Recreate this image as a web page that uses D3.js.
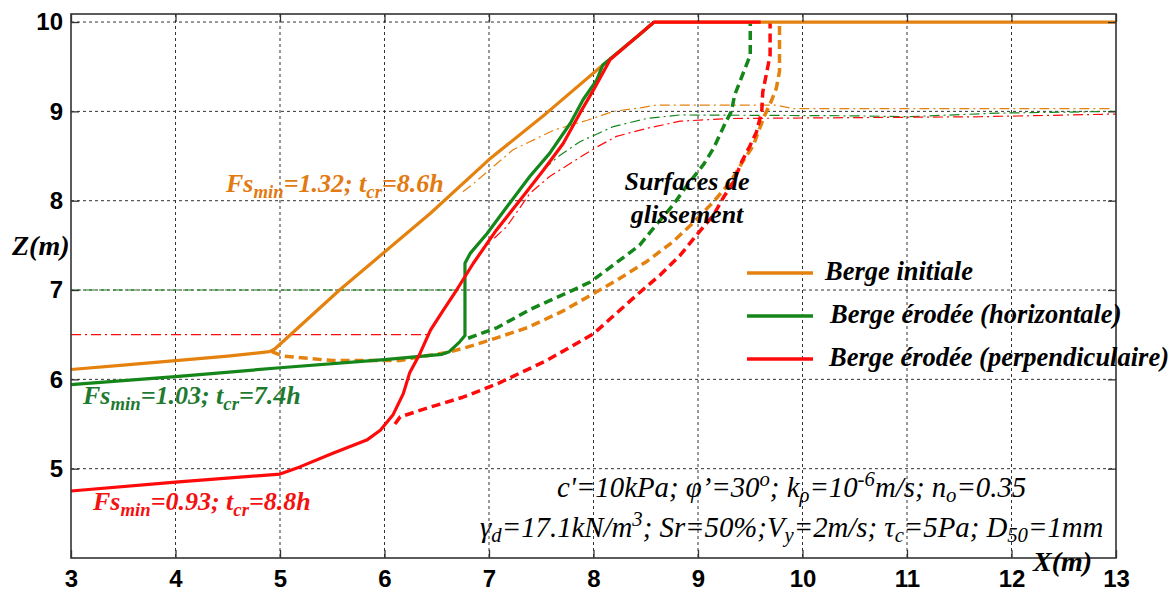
<!DOCTYPE html>
<html>
<head>
<meta charset="utf-8">
<script src="https://cdn.jsdelivr.net/npm/d3@7"></script>
<style>
  html, body { margin: 0; padding: 0; background: #fff; }
  svg { display: block; }
</style>
</head>
<body>
<svg id="chart" width="1176" height="593"></svg>
<script>
// ---------------- DATA ----------------
const xTicks = [3, 4, 5, 6, 7, 8, 9, 10, 11, 12, 13];
const zTicks = [5, 6, 7, 8, 9, 10];
const xTickLabels = ["3", "4", "5", "6", "7", "8", "9", "10", "11", "12", "13"];
const zTickLabels = ["5", "6", "7", "8", "9", "10"];

// bank profiles [x (m), z (m)]
const initialBank = [[3,6.11],[3.5,6.16],[4,6.21],[4.5,6.26],[4.9,6.31],[4.95,6.34],[5.57,7.0],[6.44,7.86],[7.0,8.46],[7.55,8.98],[8.09,9.52],[8.45,9.87],[8.58,10],[13,10]];
const bankHorizontal = [[3,5.94],[4,6.03],[5,6.13],[6,6.22],[6.55,6.28],[6.62,6.31],[6.72,6.42],[6.77,6.49],[6.77,7.3],[6.82,7.41],[6.98,7.63],[7.17,7.93],[7.39,8.27],[7.58,8.53],[7.78,8.87],[7.9,9.13],[8.03,9.35],[8.09,9.52],[8.45,9.87],[8.58,10]];
const bankPerpendicular = [[3,4.75],[4,4.85],[5,4.94],[5.19,5.02],[5.5,5.17],[5.83,5.32],[5.96,5.43],[6.08,5.6],[6.18,5.84],[6.24,6.07],[6.34,6.29],[6.44,6.55],[6.56,6.77],[6.69,7.0],[6.85,7.3],[7.07,7.67],[7.3,8.01],[7.52,8.34],[7.71,8.64],[7.87,8.98],[8.0,9.24],[8.16,9.58],[8.45,9.87],[8.58,10],[9.6,10]];

// slip surfaces
const slipInitial = [[4.92,6.31],[5.03,6.26],[5.5,6.21],[6.15,6.21],[6.37,6.26],[6.6,6.3],[6.79,6.36],[7.01,6.44],[7.37,6.58],[7.7,6.76],[8.03,6.98],[8.25,7.13],[8.51,7.32],[8.76,7.54],[8.96,7.76],[9.15,7.99],[9.31,8.21],[9.43,8.44],[9.53,8.62],[9.59,8.81],[9.64,8.96],[9.7,9.11],[9.75,9.26],[9.78,9.45],[9.78,10]];
const slipHorizontal = [[6.8,6.46],[7.08,6.58],[7.39,6.78],[7.75,6.97],[7.97,7.09],[8.19,7.28],[8.44,7.5],[8.6,7.73],[8.76,7.95],[8.92,8.21],[9.05,8.4],[9.15,8.59],[9.21,8.74],[9.27,8.89],[9.32,9.0],[9.35,9.18],[9.4,9.33],[9.45,9.48],[9.5,9.63],[9.5,10]];
const slipPerpendicular = [[6.1,5.5],[6.15,5.58],[6.44,5.69],[6.75,5.8],[7.08,5.95],[7.55,6.21],[8.0,6.51],[8.41,6.94],[8.64,7.17],[8.83,7.39],[8.99,7.62],[9.15,7.84],[9.24,8.03],[9.34,8.21],[9.42,8.44],[9.5,8.62],[9.56,8.77],[9.61,9.0],[9.62,9.22],[9.66,9.45],[9.69,9.63],[9.69,10]];

// thin water / phreatic lines
const waterInitial = [[6.75,8.1],[6.85,8.19],[7.23,8.57],[7.62,8.79],[7.94,8.9],[8.19,9.0],[8.45,9.04],[8.6,9.07],[9.75,9.07],[9.91,9.03],[12.95,9.03]];
const waterHorizontal = [[7.52,8.35],[7.68,8.51],[7.87,8.66],[8.19,8.83],[8.51,8.92],[8.83,8.96],[10.5,8.95],[11.0,8.94],[11.86,8.98],[13,9.0]];
const waterPerpendicular = [[7.05,7.58],[7.17,7.71],[7.39,8.08],[7.58,8.27],[7.78,8.42],[8.03,8.6],[8.22,8.72],[8.51,8.81],[8.83,8.89],[9.31,8.92],[11.7,8.94],[13,8.97]];
const levelHorizontal = [[3,7],[6.75,7]];
const levelPerpendicular = [[3,6.5],[6.43,6.5]];

const legendLabels = ["Berge initiale", "Berge érodée (horizontale)", "Berge érodée (perpendiculaire)"];

// ---------------- STYLE ----------------
const C_OR = "#E5820F", C_GR = "#14861A", C_RD = "#FF0A0A";
const SERIF = "'Liberation Serif','Times New Roman',serif";
const SANS = "'Liberation Sans',Arial,sans-serif";

const svg = d3.select("#chart");
const L = 71, R = 1116, T = 14, B = 558;
const x = d3.scaleLinear().domain([3, 13]).range([L, R]);
const y = d3.scaleLinear().domain([4, 10.09]).range([B, T]);

// grid
const grid = svg.append("g").attr("stroke", "#333").attr("stroke-width", 1).attr("stroke-dasharray", "3,3");
grid.selectAll(".gx").data(xTicks.filter(d => d > 3 && d < 13)).join("line")
  .attr("x1", d => x(d)).attr("x2", d => x(d)).attr("y1", T).attr("y2", B);
grid.selectAll(".gy").data(zTicks).join("line")
  .attr("x1", L).attr("x2", R).attr("y1", d => y(d)).attr("y2", d => y(d));

const line = d3.line().x(d => x(d[0])).y(d => y(d[1]));

function draw(data, color, width, dash) {
  svg.append("path").datum(data).attr("d", line)
    .attr("fill", "none").attr("stroke", color).attr("stroke-width", width)
    .attr("stroke-dasharray", dash || null).attr("stroke-linejoin", "round");
}

// thin lines
draw(levelHorizontal, C_GR, 1.2, "10,4");
draw(levelPerpendicular, C_RD, 1.2, "10,4,2,4");
draw(waterInitial, C_OR, 1.2, "10,4,2,4");
draw(waterHorizontal, C_GR, 1.2, "10,4,2,4");
draw(waterPerpendicular, C_RD, 1.2, "10,4,2,4");

// slip surfaces
draw(slipInitial, C_OR, 3.5, "9,5");
draw(slipHorizontal, C_GR, 3.5, "9,5");
draw(slipPerpendicular, C_RD, 3.5, "9,5");

// banks
draw(initialBank, C_OR, 3.2);
draw(bankHorizontal, C_GR, 3.2);
draw(bankPerpendicular, C_RD, 3.2);

// axes
const axB = d3.axisBottom(x).tickValues(xTicks).tickFormat((d, i) => xTickLabels[i]).tickSizeInner(-8).tickSizeOuter(0).tickPadding(12);
const axL = d3.axisLeft(y).tickValues(zTicks).tickFormat((d, i) => zTickLabels[i]).tickSizeInner(-8).tickSizeOuter(0).tickPadding(8);
const axT = d3.axisTop(x).tickValues(xTicks).tickFormat("").tickSizeInner(-8).tickSizeOuter(0);
const axR = d3.axisRight(y).tickValues(zTicks).tickFormat("").tickSizeInner(-8).tickSizeOuter(0);
function styleAxis(g) {
  g.select(".domain").remove();
  g.selectAll("line").attr("stroke", "#333").attr("stroke-width", 1.3);
  g.selectAll("text").attr("fill", "#000").style("font-family", SANS).style("font-weight", "bold").style("font-size", "24px");
}
svg.append("g").attr("transform", `translate(0,${B})`).call(axB).call(styleAxis);
svg.append("g").attr("transform", `translate(${L},0)`).call(axL).call(styleAxis);
svg.append("g").attr("transform", `translate(0,${T})`).call(axT).call(styleAxis);
svg.append("g").attr("transform", `translate(${R},0)`).call(axR).call(styleAxis);

// frame
svg.append("rect").attr("x", L).attr("y", T).attr("width", R - L).attr("height", B - T)
  .attr("fill", "none").attr("stroke", "#333").attr("stroke-width", 1.6);

// rich text helper
function rich(xp, yp, parts, size, opts) {
  const t = svg.append("text").attr("x", xp).attr("y", yp)
    .style("font-family", SERIF).style("font-size", size + "px")
    .style("font-style", "italic").style("font-weight", opts.bold ? "bold" : "normal")
    .attr("fill", opts.color || "#000").attr("text-anchor", opts.anchor || "start");
  let shift = 0;
  const subShift = opts.sub || 0.24;
  parts.forEach(p => {
    const [str, kind] = typeof p === "string" ? [p, null] : p;
    const target = kind === "sub" ? size * subShift : kind === "sup" ? -size * 0.38 : 0;
    const ts = t.append("tspan").text(str).attr("dy", target - shift);
    if (kind) ts.style("font-size", (size * 0.72) + "px");
    shift = target;
  });
  return t;
}

// axis titles
rich(12, 255, ["Z(m)"], 28, {bold: true});
rich(1033, 571, ["X(m)"], 28, {bold: true});

// annotations
rich(226, 192, ["Fs", ["min", "sub"], "=1.32; t", ["cr", "sub"], "=8.6h"], 26, {bold: true, color: "#E27A12"});
rich(83, 404, ["Fs", ["min", "sub"], "=1.03; t", ["cr", "sub"], "=7.4h"], 26, {bold: true, color: "#1F7A30"});
rich(93, 510, ["Fs", ["min", "sub"], "=0.93; t", ["cr", "sub"], "=8.8h"], 26, {bold: true, color: "#F21212"});
rich(687, 190, ["Surfaces de"], 26, {bold: true, anchor: "middle"});
rich(687, 223, ["glissement"], 26, {bold: true, anchor: "middle"});

rich(557, 497, ["c'=10kPa; φ’=30", ["o", "sup"], "; k", ["ρ", "sub"], "=10", ["-6", "sup"], "m/s; n", ["o", "sub"], "=0.35"], 28.8, {sub: 0.18});
rich(480, 537, ["γ", ["d", "sub"], "=17.1kN/m", ["3", "sup"], "; Sr=50%;V", ["y", "sub"], "=2m/s; τ", ["c", "sub"], "=5Pa; D", ["50", "sub"], "=1mm"], 28.8, {sub: 0.18});

// legend
const legY = [273, 316, 359];
const legX = [825, 830, 829];
const legC = [C_OR, C_GR, C_RD];
legendLabels.forEach((lab, i) => {
  svg.append("line").attr("x1", 747).attr("x2", 813).attr("y1", legY[i]).attr("y2", legY[i])
    .attr("stroke", legC[i]).attr("stroke-width", 3.5);
  rich(legX[i], legY[i] + 7, [lab], 26.5, {bold: true});
});
</script>
</body>
</html>
